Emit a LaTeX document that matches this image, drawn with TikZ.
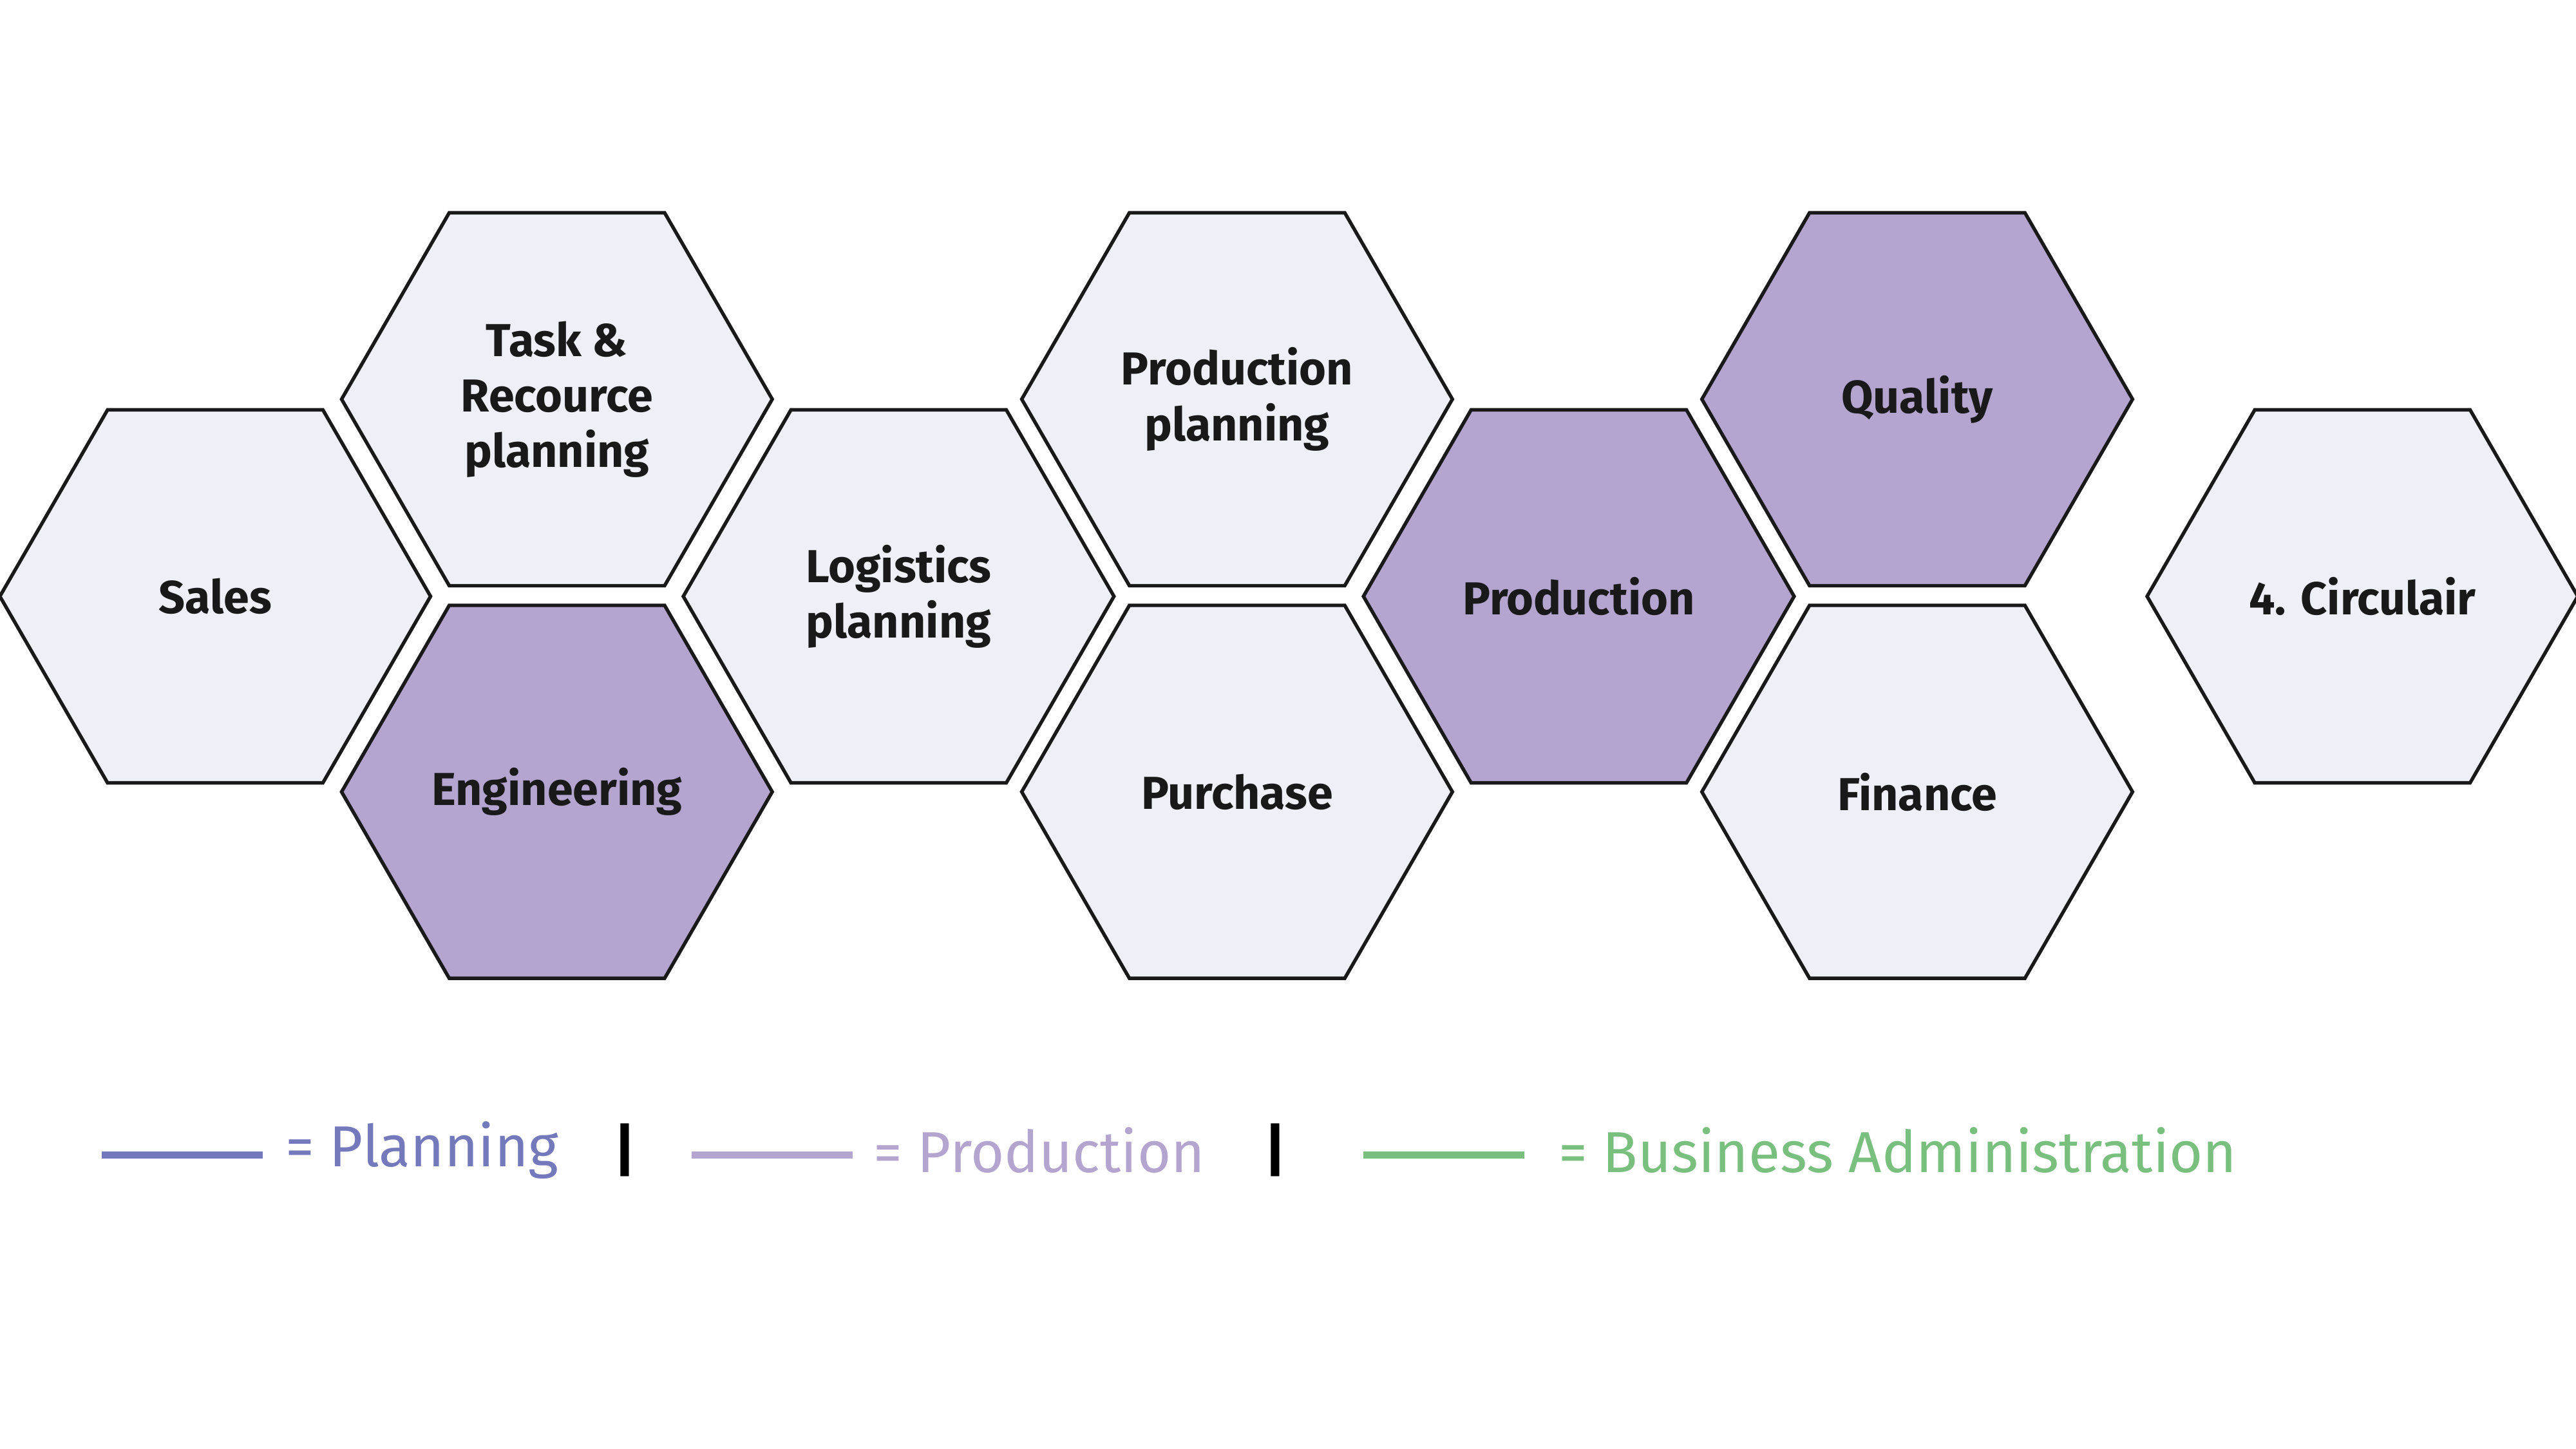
\documentclass[tikz,border=0pt]{standalone}
\usepackage{fontspec}
\setmainfont{Fira Sans}
\usetikzlibrary{shapes.geometric,positioning}
\definecolor{hexlight}{HTML}{EFEFF7}
\definecolor{hexpurple}{HTML}{B4A5D0}
\definecolor{planblue}{HTML}{7479BC}
\definecolor{prodlilac}{HTML}{B4A5D0}
\definecolor{bizgreen}{HTML}{79BF7E}
\tikzset{
        hexnode/.style={regular polygon, regular polygon sides=6, minimum size=2.62cm,
                inner sep=0pt, draw=black!90, line width=0.6pt, align=center,
                font=\bfseries\fontsize{8pt}{9.6pt}\selectfont, text=black!90},
        % Light cells
        hex_light/.style={hexnode, fill=hexlight},
        % Purple cells
        hex_purple/.style={hexnode, fill=hexpurple},
        % Legend
        legend_line/.style={line width=1.2pt},
        legend_text/.style={anchor=west, inner sep=0pt, font=\fontsize{10pt}{12pt}\selectfont}
}
\begin{document}
\begin{tikzpicture}[x=0.01cm, y=-0.01cm]
    \useasboundingbox (0,0) rectangle (1568,882);
    \node[hex_light] (sales) at (131,363) {Sales};
    \node[hex_light] (task) at (339,243) {Task \&\\Recource\\planning};
    \node[hex_purple] (eng) at (339,482) {Engineering};
    \node[hex_light] (logi) at (547,363) {Logistics\\planning};
    \node[hex_light] (pplan) at (753,243) {Production\\planning};
    \node[hex_light] (purch) at (753,482) {Purchase};
    \node[hex_purple] (prod) at (961,363) {Production};
    \node[hex_purple] (qual) at (1167,243) {Quality};
    \node[hex_light] (fin) at (1167,482) {Finance};
    \node[hex_light] (circ) at (1438,363) {4. Circulair};

    % legend
    \coordinate (l1a) at (62,703);
    \coordinate (l1b) at (160,703);
    \draw[legend_line, planblue] (l1a) -- (l1b);
    \node[legend_text, text=planblue] (t1) at (173,700) {= Planning};
    \node[legend_text, font=\bfseries\fontsize{10pt}{12pt}\selectfont] (s1) at (373,700) {|};
    \coordinate (l2a) at (421,703);
    \coordinate (l2b) at (519,703);
    \draw[legend_line, prodlilac] (l2a) -- (l2b);
    \node[legend_text, text=prodlilac] (t2) at (531,700) {= Production};
    \node[legend_text, font=\bfseries\fontsize{10pt}{12pt}\selectfont] (s2) at (769,700) {|};
    \coordinate (l3a) at (830,703);
    \coordinate (l3b) at (928,703);
    \draw[legend_line, bizgreen] (l3a) -- (l3b);
    \node[legend_text, text=bizgreen] (t3) at (948,700) {= Business Administration};
\end{tikzpicture}
\end{document}
